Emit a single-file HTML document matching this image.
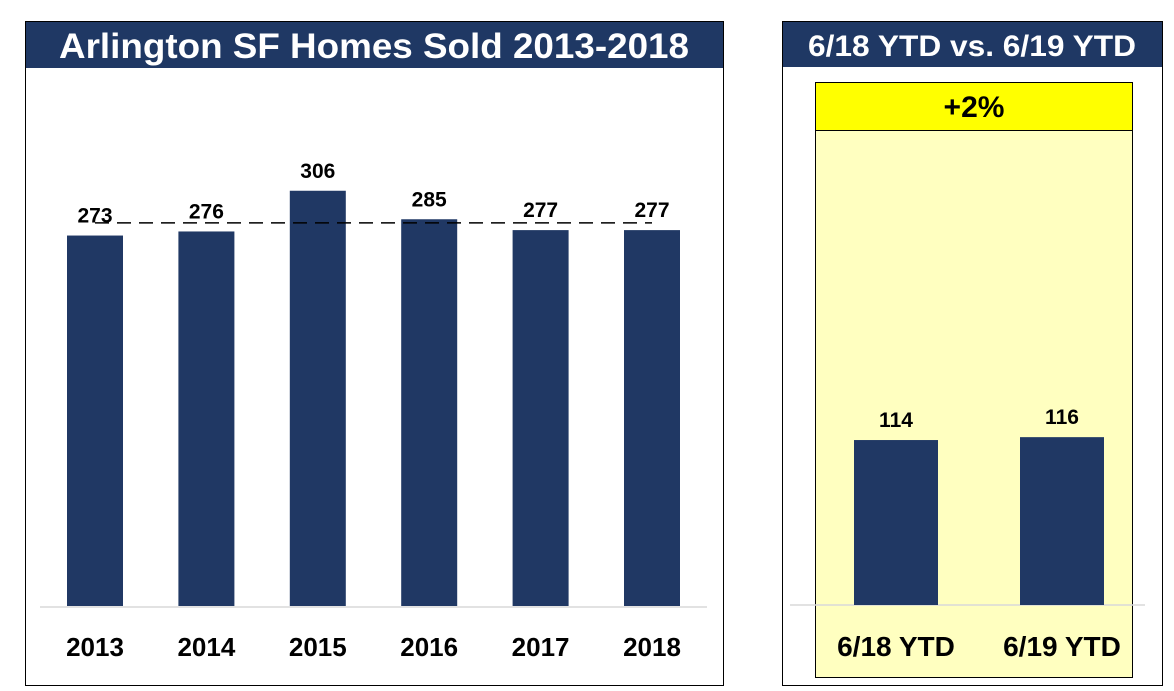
<!DOCTYPE html>
<html><head><meta charset="utf-8"><style>
body{margin:0;width:1174px;height:691px;background:#fff;overflow:hidden;font-family:"Liberation Sans",sans-serif}
svg{position:absolute;left:0;top:0}
</style></head><body>
<svg width="1174" height="691">
<g id="left">
<rect x="25.5" y="21.5" width="698" height="664" fill="#fff" stroke="#000" stroke-width="1"/>
<rect x="26" y="22" width="697" height="46" fill="#1f3864"/>
<text x="374" y="58" text-anchor="middle" fill="#fff" font-size="35" font-weight="bold" textLength="630" lengthAdjust="spacingAndGlyphs">Arlington SF Homes Sold 2013-2018</text>
<line x1="40" y1="607" x2="707" y2="607" stroke="#d9d9d9" stroke-width="1.5"/>
</g>
<g id="right">
<rect x="782.5" y="21.5" width="380" height="664" fill="#fff" stroke="#000" stroke-width="1"/>
<rect x="783" y="22" width="379" height="45" fill="#1f3864"/>
<text x="972" y="56" text-anchor="middle" fill="#fff" font-size="30" font-weight="bold" textLength="328" lengthAdjust="spacingAndGlyphs">6/18 YTD vs. 6/19 YTD</text>
<rect x="815.5" y="130.5" width="317" height="547" fill="#ffffc0" stroke="#000" stroke-width="1"/>
<rect x="815.5" y="82.5" width="317" height="48" fill="#ffff00" stroke="#000" stroke-width="1"/>
<text x="974" y="117" text-anchor="middle" fill="#000" font-size="30" font-weight="bold">+2%</text>
<line x1="790" y1="605" x2="1145" y2="605" stroke="#d9d9d9" stroke-width="1.5"/>
</g>
</svg>
<script>
const years=["2013","2014","2015","2016","2017","2018"];
const sold=[273,276,306,285,277,277];
const ytdLabels=["6/18 YTD","6/19 YTD"];
const ytdValues=[114,116];
const ns="http://www.w3.org/2000/svg";
function mk(parent,tag,attrs,txt){const e=document.createElementNS(ns,tag);for(const k in attrs)e.setAttribute(k,attrs[k]);if(txt!==undefined)e.textContent=txt;parent.appendChild(e);return e;}
const L=document.getElementById('left'),R=document.getElementById('right');
const lBase=606,lScale=1.357;
const lx=i=>95+i*111.4;
const ly=v=>lBase-v*lScale;
years.forEach((y,i)=>{
 const b=mk(L,'rect',{x:lx(i)-28,y:ly(sold[i]),width:56,height:lBase-ly(sold[i]),fill:'#203864'});
 
 
 const t=mk(L,'text',{x:lx(i),y:ly(sold[i])-13,'text-anchor':'middle','font-size':21,'font-weight':'bold',fill:'#000'},String(sold[i]));
 
 
 const c=mk(L,'text',{x:lx(i),y:656,'text-anchor':'middle','font-size':26,'font-weight':'bold',fill:'#000'},y);
 
 
});
const avg=sold.reduce((a,b)=>a+b,0)/sold.length;
const dl=mk(L,'line',{x1:lx(0),x2:lx(sold.length-1),y1:ly(avg),y2:ly(avg),stroke:'#000','stroke-width':1.5,'stroke-dasharray':'14,8'});


const rBase=605,rScale=1.447;
const rx=i=>896+i*166;
const ry=v=>rBase-v*rScale;
ytdLabels.forEach((lab,i)=>{
 const b=mk(R,'rect',{x:rx(i)-42,y:ry(ytdValues[i]),width:84,height:rBase-ry(ytdValues[i]),fill:'#203864'});
 
 
 const t=mk(R,'text',{x:rx(i),y:ry(ytdValues[i])-13,'text-anchor':'middle','font-size':21,'font-weight':'bold',fill:'#000'},String(ytdValues[i]));
 
 
 const c=mk(R,'text',{x:rx(i),y:656,'text-anchor':'middle','font-size':28,'font-weight':'bold',fill:'#000'},lab);
 
 
});
</script>
</body></html>
